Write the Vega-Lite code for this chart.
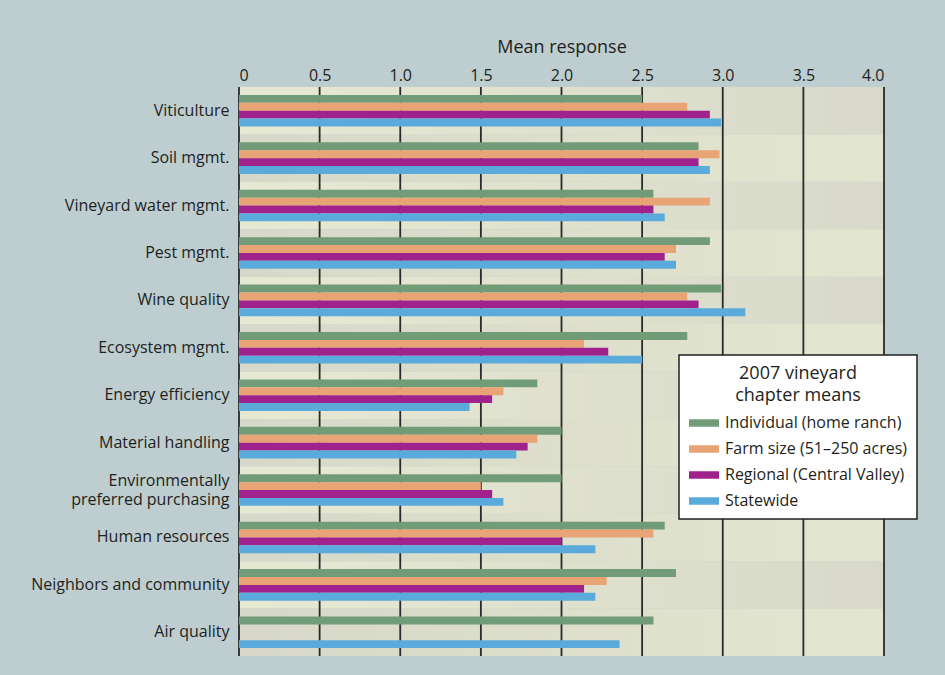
{
  "$schema": "https://vega.github.io/schema/vega-lite/v6.json",
  "autosize": {"type": "none"},
  "width": 645,
  "height": 569,
  "padding": {"left": 239, "top": 87, "right": 61, "bottom": 19},
  "background": "#bdcdd0",
  "config": {
    "font": "Open Sans",
    "view": {"stroke": null},
    "axis": {"labelColor": "#231f20", "titleColor": "#231f20"}
  },
  "datasets": {
    "cats": [
      {"item": "Viticulture"},
      {"item": "Soil mgmt."},
      {"item": "Vineyard water mgmt."},
      {"item": "Pest mgmt."},
      {"item": "Wine quality"},
      {"item": "Ecosystem mgmt."},
      {"item": "Energy efficiency"},
      {"item": "Material handling"},
      {"item": "Environmentally preferred purchasing"},
      {"item": "Human resources"},
      {"item": "Neighbors and community"},
      {"item": "Air quality"}
    ],
    "grid": [{"v": 0}, {"v": 0.5}, {"v": 1}, {"v": 1.5}, {"v": 2}, {"v": 2.5}, {"v": 3}, {"v": 3.5}, {"v": 4}],
    "means": [
      {"item": "Viticulture", "level": "Individual (home ranch)", "mean": 2.5},
      {"item": "Viticulture", "level": "Farm size (51–250 acres)", "mean": 2.78},
      {"item": "Viticulture", "level": "Regional (Central Valley)", "mean": 2.92},
      {"item": "Viticulture", "level": "Statewide", "mean": 2.99},
      {"item": "Soil mgmt.", "level": "Individual (home ranch)", "mean": 2.85},
      {"item": "Soil mgmt.", "level": "Farm size (51–250 acres)", "mean": 2.98},
      {"item": "Soil mgmt.", "level": "Regional (Central Valley)", "mean": 2.85},
      {"item": "Soil mgmt.", "level": "Statewide", "mean": 2.92},
      {"item": "Vineyard water mgmt.", "level": "Individual (home ranch)", "mean": 2.57},
      {"item": "Vineyard water mgmt.", "level": "Farm size (51–250 acres)", "mean": 2.92},
      {"item": "Vineyard water mgmt.", "level": "Regional (Central Valley)", "mean": 2.57},
      {"item": "Vineyard water mgmt.", "level": "Statewide", "mean": 2.64},
      {"item": "Pest mgmt.", "level": "Individual (home ranch)", "mean": 2.92},
      {"item": "Pest mgmt.", "level": "Farm size (51–250 acres)", "mean": 2.71},
      {"item": "Pest mgmt.", "level": "Regional (Central Valley)", "mean": 2.64},
      {"item": "Pest mgmt.", "level": "Statewide", "mean": 2.71},
      {"item": "Wine quality", "level": "Individual (home ranch)", "mean": 2.99},
      {"item": "Wine quality", "level": "Farm size (51–250 acres)", "mean": 2.78},
      {"item": "Wine quality", "level": "Regional (Central Valley)", "mean": 2.85},
      {"item": "Wine quality", "level": "Statewide", "mean": 3.14},
      {"item": "Ecosystem mgmt.", "level": "Individual (home ranch)", "mean": 2.78},
      {"item": "Ecosystem mgmt.", "level": "Farm size (51–250 acres)", "mean": 2.14},
      {"item": "Ecosystem mgmt.", "level": "Regional (Central Valley)", "mean": 2.29},
      {"item": "Ecosystem mgmt.", "level": "Statewide", "mean": 2.5},
      {"item": "Energy efficiency", "level": "Individual (home ranch)", "mean": 1.85},
      {"item": "Energy efficiency", "level": "Farm size (51–250 acres)", "mean": 1.64},
      {"item": "Energy efficiency", "level": "Regional (Central Valley)", "mean": 1.57},
      {"item": "Energy efficiency", "level": "Statewide", "mean": 1.43},
      {"item": "Material handling", "level": "Individual (home ranch)", "mean": 2.0},
      {"item": "Material handling", "level": "Farm size (51–250 acres)", "mean": 1.85},
      {"item": "Material handling", "level": "Regional (Central Valley)", "mean": 1.79},
      {"item": "Material handling", "level": "Statewide", "mean": 1.72},
      {"item": "Environmentally preferred purchasing", "level": "Individual (home ranch)", "mean": 2.0},
      {"item": "Environmentally preferred purchasing", "level": "Farm size (51–250 acres)", "mean": 1.5},
      {"item": "Environmentally preferred purchasing", "level": "Regional (Central Valley)", "mean": 1.57},
      {"item": "Environmentally preferred purchasing", "level": "Statewide", "mean": 1.64},
      {"item": "Human resources", "level": "Individual (home ranch)", "mean": 2.64},
      {"item": "Human resources", "level": "Farm size (51–250 acres)", "mean": 2.57},
      {"item": "Human resources", "level": "Regional (Central Valley)", "mean": 2.0},
      {"item": "Human resources", "level": "Statewide", "mean": 2.21},
      {"item": "Neighbors and community", "level": "Individual (home ranch)", "mean": 2.71},
      {"item": "Neighbors and community", "level": "Farm size (51–250 acres)", "mean": 2.28},
      {"item": "Neighbors and community", "level": "Regional (Central Valley)", "mean": 2.14},
      {"item": "Neighbors and community", "level": "Statewide", "mean": 2.21},
      {"item": "Air quality", "level": "Individual (home ranch)", "mean": 2.57},
      {"item": "Air quality", "level": "Statewide", "mean": 2.36}
    ]
  },
  "encoding": {
    "y": {
      "field": "item",
      "type": "nominal",
      "sort": null,
      "scale": {
        "domain": ["Viticulture", "Soil mgmt.", "Vineyard water mgmt.", "Pest mgmt.", "Wine quality", "Ecosystem mgmt.", "Energy efficiency", "Material handling", "Environmentally preferred purchasing", "Human resources", "Neighbors and community", "Air quality"],
        "paddingInner": 0,
        "paddingOuter": 0
      },
      "axis": {
        "title": null,
        "domain": false,
        "ticks": false,
        "labelFontSize": 16,
        "labelPadding": 10,
        "labelLineHeight": 19,
        "labelLimit": 300,
        "labelOffset": {"condition": {"test": "datum.value == 'Environmentally preferred purchasing'", "value": -9.5}, "value": 0},
        "labelExpr": "datum.value == 'Environmentally preferred purchasing' ? ['Environmentally', 'preferred purchasing'] : datum.value"
      }
    }
  },
  "layer": [
    {
      "data": {"name": "cats"},
      "transform": [
        {"window": [{"op": "row_number", "as": "r"}]},
        {"filter": "datum.r % 2 == 1"}
      ],
      "mark": {
        "type": "rect",
        "color": {
          "gradient": "linear", "x1": 0, "x2": 1, "y1": 0, "y2": 0,
          "stops": [{"offset": 0, "color": "#e6e9d2"}, {"offset": 1, "color": "#d8d9ca"}]
        }
      },
      "encoding": {
        "x": {"datum": 0, "type": "quantitative"},
        "x2": {"datum": 4}
      }
    },
    {
      "data": {"name": "cats"},
      "transform": [
        {"window": [{"op": "row_number", "as": "r"}]},
        {"filter": "datum.r % 2 == 0"}
      ],
      "mark": {
        "type": "rect",
        "color": {
          "gradient": "linear", "x1": 0, "x2": 1, "y1": 0, "y2": 0,
          "stops": [{"offset": 0, "color": "#d7d8c9"}, {"offset": 1, "color": "#e3e6cf"}]
        }
      },
      "encoding": {
        "x": {"datum": 0, "type": "quantitative"},
        "x2": {"datum": 4}
      }
    },
    {
      "data": {"name": "grid"},
      "mark": {"type": "rule", "color": "#2a2a2a", "strokeWidth": 1.8},
      "encoding": {
        "x": {"field": "v", "type": "quantitative"},
        "y": null
      }
    },
    {
      "data": {"name": "means"},
      "mark": {"type": "bar"},
      "encoding": {
        "x": {
          "field": "mean",
          "type": "quantitative",
          "scale": {"domain": [0, 4], "nice": false},
          "axis": {
            "orient": "top",
            "title": "Mean response",
            "titleFontSize": 18,
            "titleFontWeight": "normal",
            "titlePadding": 11,
            "labelFontSize": 16,
            "labelPadding": 4,
            "ticks": false,
            "domain": false,
            "grid": false,
            "values": [0, 0.5, 1, 1.5, 2, 2.5, 3, 3.5, 4],
            "labelExpr": "datum.value == 0 ? '0' : format(datum.value, '.1f')"
          }
        },
        "yOffset": {
          "field": "level",
          "type": "nominal",
          "sort": ["Individual (home ranch)", "Farm size (51–250 acres)", "Regional (Central Valley)", "Statewide"],
          "scale": {"paddingInner": 0, "paddingOuter": 1.15}
        },
        "color": {
          "field": "level",
          "type": "nominal",
          "sort": ["Individual (home ranch)", "Farm size (51–250 acres)", "Regional (Central Valley)", "Statewide"],
          "scale": {"range": ["#729b77", "#e8a474", "#a0228c", "#5aabdc"]},
          "legend": {
            "orient": "none",
            "legendX": 440,
            "legendY": 268,
            "title": ["2007 vineyard", "chapter means"],
            "titleFontSize": 18,
            "titleFontWeight": "normal",
            "titleColor": "#231f20",
            "titleLineHeight": 22,
            "titleAnchor": "middle",
            "titleAlign": "center",
            "titlePadding": 3,
            "labelFontSize": 16,
            "labelColor": "#231f20",
            "labelOffset": 6,
            "labelLimit": 300,
            "symbolType": "M-1,-0.25H1V0.25H-1Z",
            "symbolSize": 900,
            "symbolStrokeWidth": 0,
            "symbolOpacity": 1,
            "rowPadding": 3,
            "padding": 10,
            "fillColor": "#ffffff",
            "strokeColor": "#231f20",
            "encode": {"legend": {"update": {"strokeWidth": {"value": 1.5}}}}
          }
        }
      }
    }
  ]
}
